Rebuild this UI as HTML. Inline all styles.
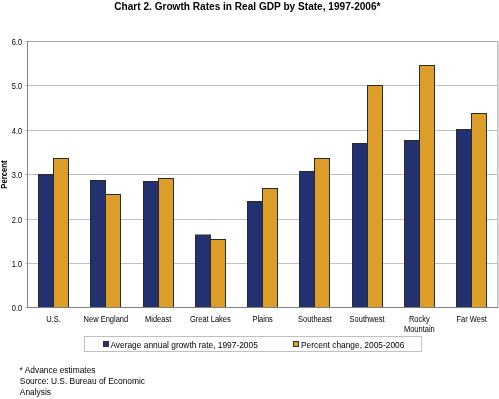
<!DOCTYPE html><html><head><meta charset="utf-8"><style>html,body{margin:0;padding:0;background:#fff;width:499px;height:399px;overflow:hidden}svg{display:block;-webkit-font-smoothing:antialiased}text{font-family:"Liberation Sans",sans-serif;fill:#000}.g{will-change:transform}</style></head><body>
<svg class="g" width="499" height="399" viewBox="0 0 499 399">
<rect x="0" y="0" width="499" height="399" fill="#fff"/>
<text x="247.4" y="10.2" font-size="10.1" font-weight="bold" text-anchor="middle">Chart 2. Growth Rates in Real GDP by State, 1997-2006*</text>
<rect x="28" y="85" width="470" height="1" fill="#c0c0c0"/>
<rect x="28" y="130" width="470" height="1" fill="#c0c0c0"/>
<rect x="28" y="174" width="470" height="1" fill="#c0c0c0"/>
<rect x="28" y="219" width="470" height="1" fill="#c0c0c0"/>
<rect x="28" y="263" width="470" height="1" fill="#c0c0c0"/>
<rect x="28" y="41" width="470" height="1" fill="#a4a4a4"/>
<rect x="497" y="41" width="1" height="267" fill="#c0c0c0"/>
<rect x="498" y="41" width="1" height="267" fill="#dedede"/>
<rect x="25" y="41" width="2" height="1" fill="#c0c0c0"/>
<rect x="25" y="85" width="2" height="1" fill="#c0c0c0"/>
<rect x="25" y="130" width="2" height="1" fill="#c0c0c0"/>
<rect x="25" y="174" width="2" height="1" fill="#c0c0c0"/>
<rect x="25" y="219" width="2" height="1" fill="#c0c0c0"/>
<rect x="25" y="263" width="2" height="1" fill="#c0c0c0"/>
<rect x="25" y="307" width="2" height="1" fill="#c0c0c0"/>
<text transform="translate(22.2,45.0) scale(1,1.2)" font-size="7.5" text-anchor="end">6.0</text>
<text transform="translate(22.2,89.0) scale(1,1.2)" font-size="7.5" text-anchor="end">5.0</text>
<text transform="translate(22.2,134.0) scale(1,1.2)" font-size="7.5" text-anchor="end">4.0</text>
<text transform="translate(22.2,178.0) scale(1,1.2)" font-size="7.5" text-anchor="end">3.0</text>
<text transform="translate(22.2,223.0) scale(1,1.2)" font-size="7.5" text-anchor="end">2.0</text>
<text transform="translate(22.2,267.0) scale(1,1.2)" font-size="7.5" text-anchor="end">1.0</text>
<text transform="translate(22.2,311.0) scale(1,1.2)" font-size="7.5" text-anchor="end">0.0</text>
<rect x="38.5" y="174.5" width="15" height="133.0" fill="#233170" stroke="#2a2a2a" stroke-width="1"/>
<rect x="53.5" y="158.5" width="15" height="149.0" fill="#dc9e28" stroke="#2a2a2a" stroke-width="1"/>
<rect x="90.5" y="180.5" width="15" height="127.0" fill="#233170" stroke="#2a2a2a" stroke-width="1"/>
<rect x="105.5" y="194.5" width="15" height="113.0" fill="#dc9e28" stroke="#2a2a2a" stroke-width="1"/>
<rect x="143.5" y="181.5" width="15" height="126.0" fill="#233170" stroke="#2a2a2a" stroke-width="1"/>
<rect x="158.5" y="178.5" width="15" height="129.0" fill="#dc9e28" stroke="#2a2a2a" stroke-width="1"/>
<rect x="195.5" y="235.0" width="15" height="72.5" fill="#233170" stroke="#2a2a2a" stroke-width="1"/>
<rect x="210.5" y="239.5" width="15" height="68.0" fill="#dc9e28" stroke="#2a2a2a" stroke-width="1"/>
<rect x="247.5" y="201.5" width="15" height="106.0" fill="#233170" stroke="#2a2a2a" stroke-width="1"/>
<rect x="262.5" y="188.5" width="15" height="119.0" fill="#dc9e28" stroke="#2a2a2a" stroke-width="1"/>
<rect x="299.5" y="171.5" width="15" height="136.0" fill="#233170" stroke="#2a2a2a" stroke-width="1"/>
<rect x="314.5" y="158.5" width="15" height="149.0" fill="#dc9e28" stroke="#2a2a2a" stroke-width="1"/>
<rect x="352.5" y="143.5" width="15" height="164.0" fill="#233170" stroke="#2a2a2a" stroke-width="1"/>
<rect x="367.5" y="85.5" width="15" height="222.0" fill="#dc9e28" stroke="#2a2a2a" stroke-width="1"/>
<rect x="404.5" y="140.5" width="15" height="167.0" fill="#233170" stroke="#2a2a2a" stroke-width="1"/>
<rect x="419.5" y="65.5" width="15" height="242.0" fill="#dc9e28" stroke="#2a2a2a" stroke-width="1"/>
<rect x="456.5" y="129.5" width="15" height="178.0" fill="#233170" stroke="#2a2a2a" stroke-width="1"/>
<rect x="471.5" y="113.5" width="15" height="194.0" fill="#dc9e28" stroke="#2a2a2a" stroke-width="1"/>
<rect x="27" y="41" width="1" height="267" fill="#808080"/>
<rect x="27" y="307" width="471" height="1" fill="#808080"/>
<text transform="translate(53.60,322.30) scale(1,1.15)" font-size="7.5" text-anchor="middle">U.S.</text>
<text transform="translate(105.85,322.30) scale(1,1.15)" font-size="7.5" text-anchor="middle">New England</text>
<text transform="translate(158.10,322.30) scale(1,1.15)" font-size="7.5" text-anchor="middle">Mideast</text>
<text transform="translate(210.35,322.30) scale(1,1.15)" font-size="7.5" text-anchor="middle">Great Lakes</text>
<text transform="translate(262.60,322.30) scale(1,1.15)" font-size="7.5" text-anchor="middle">Plains</text>
<text transform="translate(314.85,322.30) scale(1,1.15)" font-size="7.5" text-anchor="middle">Southeast</text>
<text transform="translate(367.10,322.30) scale(1,1.15)" font-size="7.5" text-anchor="middle">Southwest</text>
<text transform="translate(419.35,322.30) scale(1,1.15)" font-size="7.5" text-anchor="middle">Rocky</text>
<text transform="translate(419.35,331.70) scale(1,1.15)" font-size="7.5" text-anchor="middle">Mountain</text>
<text transform="translate(471.60,322.30) scale(1,1.15)" font-size="7.5" text-anchor="middle">Far West</text>
<text transform="translate(6.9,174.6) rotate(-90) scale(1,1.15)" x="0" y="0" font-size="7.7" font-weight="bold" text-anchor="middle">Percent</text>
<rect x="84.5" y="336.5" width="337" height="15" fill="#fff" stroke="#c0c0c0" stroke-width="1"/>
<rect x="103.5" y="341.5" width="5" height="5" fill="#233170" stroke="#333" stroke-width="1"/>
<text x="110.4" y="347.6" font-size="8.4">Average annual growth rate, 1997-2005</text>
<rect x="293.5" y="341.5" width="5" height="5" fill="#dc9e28" stroke="#333" stroke-width="1"/>
<text x="301" y="347.6" font-size="8.4">Percent change, 2005-2006</text>
<text x="19.6" y="373.3" font-size="8.4">* Advance estimates</text>
<text x="19.8" y="384.1" font-size="8.4">Source: U.S. Bureau of Economic</text>
<text x="19.8" y="395.0" font-size="8.4">Analysis</text>
</svg></body></html>
